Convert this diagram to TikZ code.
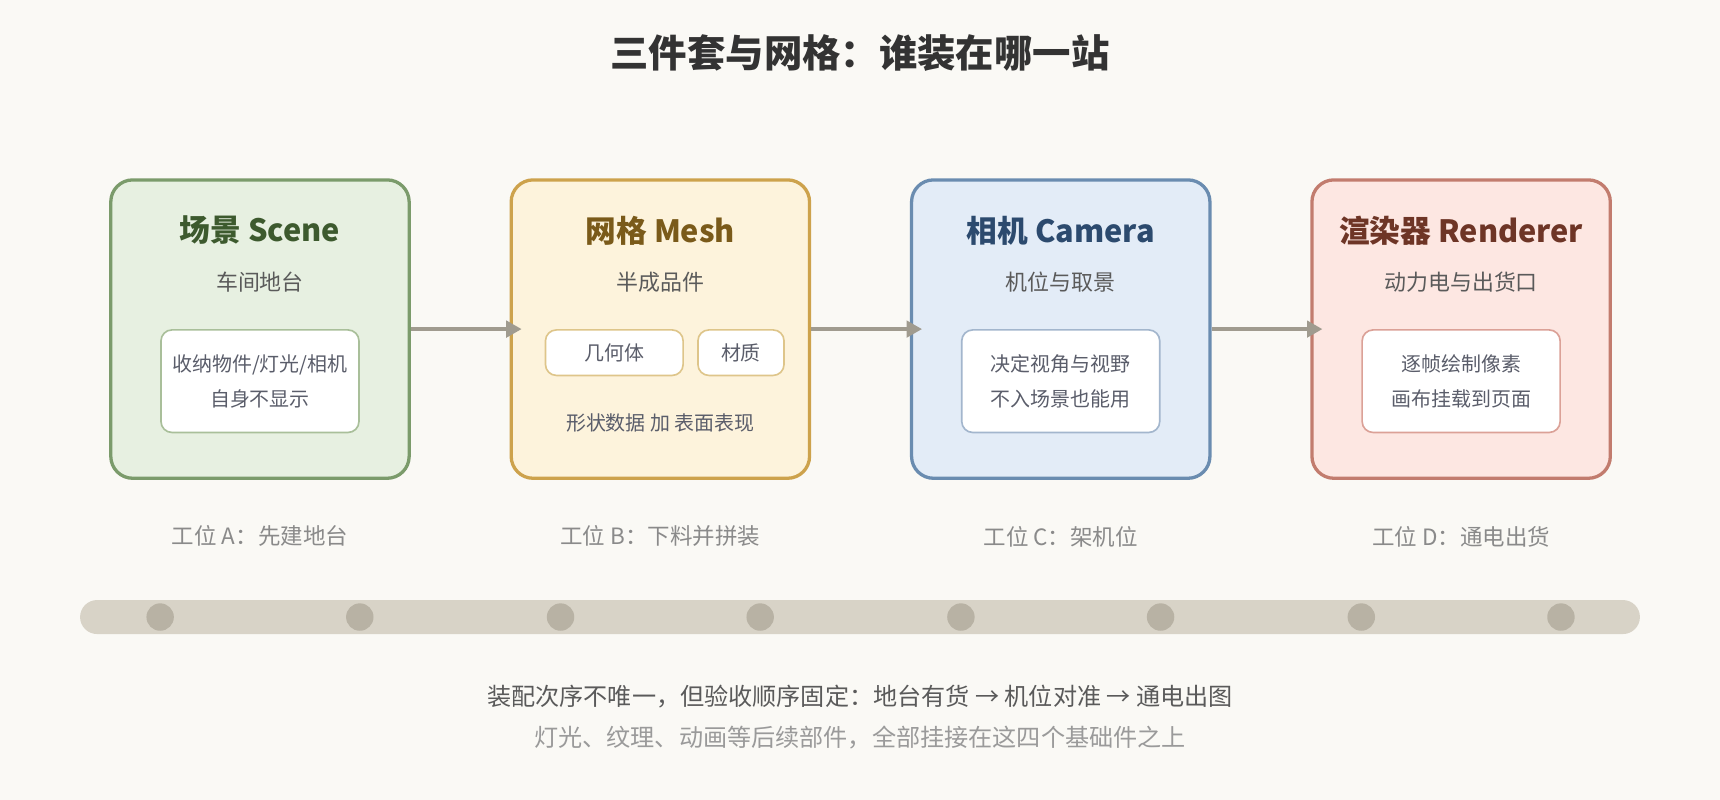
\documentclass[tikz,border=0pt]{standalone}
\usepackage{fontspec}
\setmainfont{Noto Sans CJK SC}
\usepackage{tikz}
\usetikzlibrary{arrows.meta,positioning,calc}

\definecolor{bgc}{HTML}{FAF9F5}
\definecolor{ink}{HTML}{333333}
\definecolor{subink}{HTML}{5A5A5A}
\definecolor{boxink}{HTML}{5A5D6A}
\definecolor{lblink}{HTML}{8A8A8A}
\definecolor{noteink}{HTML}{9A9A9A}
\definecolor{arrowc}{HTML}{A09B8F}
\definecolor{trackc}{HTML}{D8D3C7}
\definecolor{dotc}{HTML}{B8B2A4}
\definecolor{sceneF}{HTML}{E7F0E1}\definecolor{sceneD}{HTML}{7B9B6B}
\definecolor{sceneT}{HTML}{3D5A2E}\definecolor{sceneI}{HTML}{A9BF9A}
\definecolor{meshF}{HTML}{FDF3DC}\definecolor{meshD}{HTML}{CDA24C}
\definecolor{meshT}{HTML}{7A5A1A}\definecolor{meshI}{HTML}{DEC58A}
\definecolor{camF}{HTML}{E3ECF7}\definecolor{camD}{HTML}{6A8CB0}
\definecolor{camT}{HTML}{2C4A6E}\definecolor{camI}{HTML}{A3B6CD}
\definecolor{renF}{HTML}{FDE7E2}\definecolor{renD}{HTML}{C27C6E}
\definecolor{renT}{HTML}{6E3526}\definecolor{renI}{HTML}{DBA197}

\begin{document}
\begin{tikzpicture}[x=0.5pt,y=-0.5pt,node distance=45pt,
                    >={Triangle[length=7pt,width=7.5pt]}]
  \tikzstyle{stage}=[draw,rounded corners=10pt,line width=1.5pt,
                     minimum width=136pt,minimum height=136pt]
  \tikzstyle{stagetitle}=[font=\bfseries\fontsize{14}{16}\selectfont]
  \tikzstyle{stagesub}=[text=subink,font=\fontsize{10}{12}\selectfont]
  \tikzstyle{part}=[draw,fill=white,rounded corners=5pt,line width=0.75pt,
                    text=boxink,align=center,font=\fontsize{9.1}{16}\selectfont,
                    inner sep=0pt]
  \tikzstyle{station}=[text=lblink,font=\fontsize{10.25}{12}\selectfont]
  \tikzstyle{flow}=[->,draw=arrowc,line width=1.5pt,shorten >=-5.5pt]

  \fill[bgc] (0,0) rectangle (1568,729);

  \node[text=ink,font=\bfseries\fontsize{17.5}{20}\selectfont] (title) at (784,48)
    {三件套与网格：谁装在哪一站};

  % stations
  \node[stage,fill=sceneF,draw=sceneD] (scene) at (237,300) {};
  \node[stage,fill=meshF,draw=meshD]   (mesh)     [right=of scene] {};
  \node[stage,fill=camF,draw=camD]     (camera)   [right=of mesh] {};
  \node[stage,fill=renF,draw=renD]     (renderer) [right=of camera] {};

  \path (scene)  edge[flow] (mesh)
        (mesh)   edge[flow] (camera)
        (camera) edge[flow] (renderer);

  % scene
  \node[stagetitle,text=sceneT] (sceneT) at ($(scene)+(0,-90)$) {场景 Scene};
  \node[stagesub] (sceneS) at ($(scene)+(0,-43)$) {车间地台};
  \node[part,draw=sceneI,minimum width=90.25pt,minimum height=46.75pt]
    (sceneP) at ($(scene)+(0,47.5)$) {收纳物件/灯光/相机\\自身不显示};
  \node[station] (sceneL) at ($(scene)+(0,189)$) {工位 A：先建地台};

  % mesh
  \node[stagetitle,text=meshT] (meshT) at ($(mesh)+(0,-90)$) {网格 Mesh};
  \node[stagesub] (meshS) at ($(mesh)+(0,-43)$) {半成品件};
  \node[part,draw=meshI,minimum width=62.75pt,minimum height=20.75pt]
    (geom) at ($(mesh)+(-42,21.5)$) {几何体};
  \node[part,draw=meshI,minimum width=39.25pt,minimum height=20.75pt]
    (mat) at ($(mesh)+(73.5,21.5)$) {材质};
  \node[text=boxink,font=\fontsize{9.1}{12}\selectfont] (meshN)
    at ($(mesh)+(0,86)$) {形状数据 加 表面表现};
  \node[station] (meshL) at ($(mesh)+(0,189)$) {工位 B：下料并拼装};

  % camera
  \node[stagetitle,text=camT] (cameraT) at ($(camera)+(0,-90)$) {相机 Camera};
  \node[stagesub] (cameraS) at ($(camera)+(0,-43)$) {机位与取景};
  \node[part,draw=camI,minimum width=90.25pt,minimum height=46.75pt]
    (cameraP) at ($(camera)+(0,47.5)$) {决定视角与视野\\不入场景也能用};
  \node[station] (cameraL) at ($(camera)+(0,189)$) {工位 C：架机位};

  % renderer
  \node[stagetitle,text=renT] (rendererT) at ($(renderer)+(0,-90)$) {渲染器 Renderer};
  \node[stagesub] (rendererS) at ($(renderer)+(0,-43)$) {动力电与出货口};
  \node[part,draw=renI,minimum width=90.25pt,minimum height=46.75pt]
    (rendererP) at ($(renderer)+(0,47.5)$) {逐帧绘制像素\\画布挂载到页面};
  \node[station] (rendererL) at ($(renderer)+(0,189)$) {工位 D：通电出货};

  % track
  \node[fill=trackc,rounded corners=7.75pt,minimum width=711pt,
        minimum height=15.5pt,inner sep=0pt] (track) at (784,562.5) {};
  \foreach \b in {scene,mesh,camera,renderer}{
    \fill[dotc] ($(\b |- track)+(-91,0)$) circle (6.25pt);
    \fill[dotc] ($(\b |- track)+(91,0)$) circle (6.25pt);
  }

  \node[text=subink,font=\fontsize{11}{13}\selectfont] (rule) at (784,635)
    {装配次序不唯一，但验收顺序固定：地台有货 → 机位对准 → 通电出图};
  \node[text=noteink,font=\fontsize{11}{13}\selectfont] (note) at (784,672)
    {灯光、纹理、动画等后续部件，全部挂接在这四个基础件之上};
\end{tikzpicture}
\end{document}
